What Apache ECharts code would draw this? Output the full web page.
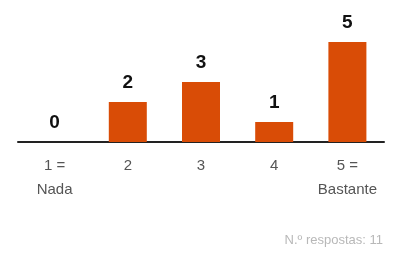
<!DOCTYPE html>
<html>
<head>
<meta charset="utf-8">
<script src="https://cdn.jsdelivr.net/npm/echarts@6/dist/echarts.min.js"></script>
<style>
  html, body { margin: 0; padding: 0; background: #fff; }
  #chart { width: 393px; height: 253px; }
</style>
</head>
<body>
<div id="chart"></div>
<script>
const categories = ["1 =\nNada", "2", "3", "4", "5 =\nBastante"];
const counts = [0, 2, 3, 1, 5];
const footnote = "N.º respostas: 11";

const chart = echarts.init(document.getElementById("chart"));
const option = {
  animation: false,
  grid: { left: 18, right: 9, top: 42, bottom: 111 },
  xAxis: {
    type: "category",
    data: categories,
    axisLine: { lineStyle: { color: "#222", width: 2 } },
    axisTick: { show: false },
    axisLabel: {
      interval: 0,
      color: "#555",
      fontSize: 15,
      fontFamily: "Liberation Sans",
      lineHeight: 24,
      margin: 12
    }
  },
  yAxis: {
    type: "value",
    min: 0,
    max: 5,
    show: false
  },
  series: [
    {
      type: "bar",
      data: counts,
      barWidth: 38,
      itemStyle: { color: "#d94c06" },
      label: {
        show: true,
        position: "top",
        distance: 10,
        color: "#111",
        fontSize: 19,
        fontWeight: "bold",
        fontFamily: "Liberation Sans"
      }
    }
  ],
  graphic: [
    {
      type: "text",
      right: 10,
      top: 234,
      style: {
        text: footnote,
        fill: "#b8b8b8",
        font: "13px 'Liberation Sans'"
      }
    }
  ]
};
chart.setOption(option);
</script>
</body>
</html>
